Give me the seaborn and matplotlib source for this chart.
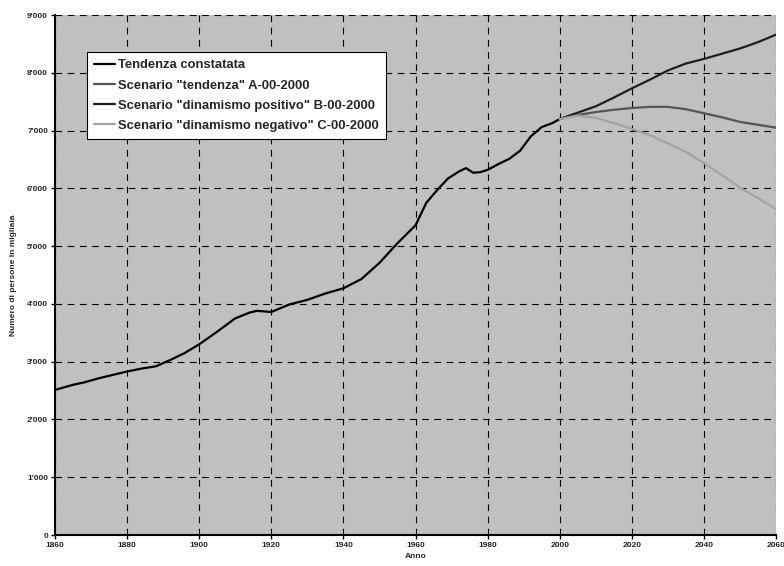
import matplotlib
matplotlib.use("Agg")
import matplotlib.pyplot as plt
import matplotlib.ticker as mticker
import seaborn as sns
import pandas as pd

hist_years = [1860, 1865, 1868, 1872, 1876, 1880, 1884, 1888, 1892, 1896, 1900, 1905,
              1910, 1914, 1916, 1918, 1920, 1925, 1930, 1935, 1940, 1945, 1950, 1955,
              1960, 1963, 1966, 1969, 1972, 1974, 1976, 1978, 1980, 1983, 1986, 1989,
              1992, 1995, 1998, 2000]
hist_values = [2510, 2600, 2640, 2710, 2770, 2830, 2880, 2920, 3030, 3150, 3300, 3520,
               3750, 3850, 3880, 3870, 3860, 3990, 4070, 4180, 4270, 4430, 4710, 5050,
               5360, 5750, 5970, 6170, 6290, 6350, 6270, 6280, 6320, 6420, 6510, 6650,
               6900, 7060, 7130, 7200]

scen_years = [2000, 2005, 2010, 2015, 2020, 2025, 2030, 2035, 2040, 2045, 2050, 2055, 2060]
scen_A = [7200, 7270, 7320, 7360, 7390, 7410, 7410, 7370, 7300, 7230, 7150, 7100, 7050]
scen_B = [7200, 7310, 7420, 7570, 7730, 7880, 8040, 8160, 8240, 8330, 8420, 8530, 8660]
scen_C = [7200, 7260, 7220, 7130, 7030, 6920, 6780, 6630, 6440, 6230, 6010, 5830, 5640]

labels = ['Tendenza constatata',
          'Scenario "tendenza" A-00-2000',
          'Scenario "dinamismo positivo" B-00-2000',
          'Scenario "dinamismo negativo" C-00-2000']
x_ticks = list(range(1860, 2061, 20))
y_ticks = list(range(0, 9001, 1000))

sns.set_style("white")
plt.rcParams['font.family'] = ['Liberation Sans', 'DejaVu Sans']

fig = plt.figure(figsize=(7.84, 5.66), dpi=100)
ax = fig.add_axes([55/784, 1-535/566, 721/784, 520/566])
ax.set_facecolor('#c0c0c0')

df_h = pd.DataFrame({'Anno': hist_years, 'v': hist_values})
sns.lineplot(data=df_h, x='Anno', y='v', ax=ax, color='black', lw=1.6, label=labels[0])
sns.lineplot(x=scen_years, y=scen_A, ax=ax, color='#555555', lw=1.6, label=labels[1])
sns.lineplot(x=scen_years, y=scen_B, ax=ax, color='#1e1e1e', lw=1.6, label=labels[2])
sns.lineplot(x=scen_years, y=scen_C, ax=ax, color='#a3a3a3', lw=1.6, label=labels[3])

ax.set_xlim(1860, 2060)
ax.set_ylim(0, 9000)
ax.set_xticks(x_ticks)
ax.set_yticks(y_ticks)
ax.yaxis.set_major_formatter(mticker.FuncFormatter(
    lambda v, p: f"{int(v):,}".replace(",", "'")))
ax.grid(True, color='black', linestyle=(0, (6, 5)), linewidth=0.8)
ax.set_axisbelow(True)
for s in ['top', 'right']:
    ax.spines[s].set_visible(False)
for s in ['left', 'bottom']:
    ax.spines[s].set_color('black')
    ax.spines[s].set_linewidth(1.5)
ax.tick_params(axis='both', direction='out', length=3, width=1, color='black',
               labelsize=6, pad=2, left=True, bottom=True)
for t in ax.get_xticklabels() + ax.get_yticklabels():
    t.set_fontweight('bold')
ax.set_xlabel('Anno', fontsize=6, fontweight='bold', labelpad=3)
ax.set_ylabel('Numero di persone in migliaia', fontsize=6, fontweight='bold', labelpad=7)

leg = ax.legend(loc='upper left', bbox_to_anchor=(32/721, (535-52)/520),
                borderaxespad=0, frameon=True, fancybox=False, framealpha=1,
                edgecolor='black', facecolor='white',
                prop={'weight': 'bold', 'size': 9.4}, handlelength=1.6,
                handletextpad=0.25, labelspacing=0.62, borderpad=0.55)
leg.get_frame().set_linewidth(0.8)

fig.savefig('out.png', dpi=100, facecolor='white')
